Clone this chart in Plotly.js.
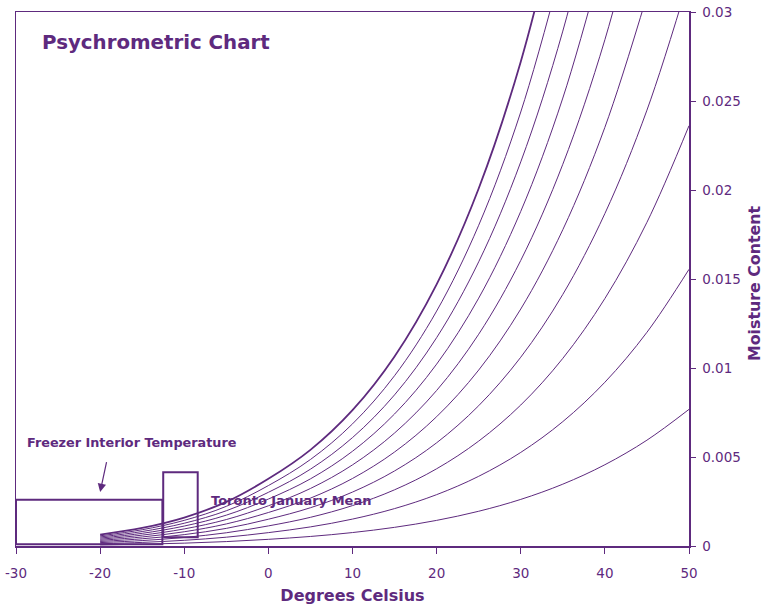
<!DOCTYPE html>
<html>
<head>
<meta charset="utf-8">
<script src="https://cdn.plot.ly/plotly-3.0.1.min.js"></script>
<style>html,body{margin:0;padding:0;background:#fff;}#chart{width:764px;height:605px;}</style>
</head>
<body>
<div id="chart"></div>
<script>
// Dry-bulb temperatures (°C) at which the curves were read
const temps = [-20, -15, -10, -5, 0, 5, 10, 15, 20, 25, 30, 35, 40, 45, 50];
// Moisture content (kg/kg)
const rh10  = [0.0000636, 0.000102, 0.00016, 0.000248, 0.000375, 0.000536, 0.000755, 0.001049, 0.001439, 0.001952, 0.002618, 0.003474, 0.004566, 0.005946, 0.007676];
const rh20  = [0.000127, 0.000203, 0.00032, 0.000495, 0.000751, 0.001073, 0.001512, 0.002101, 0.002885, 0.003916, 0.005258, 0.006988, 0.0092, 0.012007, 0.015544];
const rh30  = [0.000191, 0.000305, 0.00048, 0.000743, 0.001128, 0.001611, 0.00227, 0.003157, 0.004338, 0.005893, 0.00792, 0.010541, 0.013903, 0.018185, 0.023611];
const rh40  = [0.000254, 0.000406, 0.00064, 0.00099, 0.001504, 0.00215, 0.00303, 0.004217, 0.005797, 0.007882, 0.010605, 0.014135, 0.018677, 0.024486, 0.031885];
const rh50  = [0.000318, 0.000508, 0.0008, 0.00124, 0.001882, 0.00269, 0.003793, 0.00528, 0.007264, 0.009884, 0.013313, 0.01777, 0.023522, 0.030912];
const rh60  = [0.000381, 0.00061, 0.00096, 0.001486, 0.002259, 0.003231, 0.004557, 0.006347, 0.008737, 0.011898, 0.016045, 0.021446, 0.028442, 0.037466];
const rh70  = [0.000445, 0.000711, 0.00112, 0.001733, 0.002637, 0.003772, 0.005323, 0.007417, 0.010217, 0.013925, 0.0188, 0.025165, 0.033437];
const rh80  = [0.000509, 0.000813, 0.00128, 0.00198, 0.003016, 0.004315, 0.006091, 0.008491, 0.011704, 0.015966, 0.021579, 0.028927, 0.03851];
const rh90  = [0.000572, 0.000914, 0.00144, 0.002228, 0.003395, 0.004859, 0.00686, 0.009568, 0.013197, 0.018019, 0.024382, 0.032732];
const rh100 = [0.000636, 0.001016, 0.0016, 0.002476, 0.003775, 0.005403, 0.007632, 0.01065, 0.014699, 0.020086, 0.02721, 0.036584];

// Boxes
const freezerX = [-30, -12.6];
const freezerY = [0.0001, 0.0026];
const torontoX = [-12.5, -8.4];
const torontoY = [0.00049, 0.00414];

// Ticks
const xTickVals = [-30, -20, -10, 0, 10, 20, 30, 40, 50];
const xTickText = ["-30", "-20", "-10", "0", "10", "20", "30", "40", "50"];
const yTickVals = [0, 0.005, 0.01, 0.015, 0.02, 0.025, 0.03];
const yTickText = ["0", "0.005", "0.01", "0.015", "0.02", "0.025", "0.03"];

const C = '#5e2a7e';
const curves = [rh10, rh20, rh30, rh40, rh50, rh60, rh70, rh80, rh90, rh100];
const traces = curves.map((ys, i) => ({
  type: 'scatter', mode: 'lines',
  x: temps.slice(0, ys.length), y: ys,
  line: {color: C, width: i === curves.length - 1 ? 1.8 : 1, shape: 'spline', smoothing: 1},
  hoverinfo: 'skip', showlegend: false
}));
function box(xs, ys, w) {
  return {type: 'scatter', mode: 'lines',
    x: [xs[0], xs[1], xs[1], xs[0], xs[0]],
    y: [ys[0], ys[0], ys[1], ys[1], ys[0]],
    line: {color: C, width: w}, hoverinfo: 'skip', showlegend: false};
}
traces.push(box(freezerX, freezerY, 2));
traces.push(box(torontoX, torontoY, 2));

const layout = {
  width: 764, height: 605,
  margin: {l: 16, r: 75, t: 12, b: 59},
  paper_bgcolor: '#fff', plot_bgcolor: '#fff',
  font: {family: 'DejaVu Sans, sans-serif', color: C},
  title: {text: 'Psychrometric Chart', x: 42/764, xanchor: 'left', xref: 'container',
          y: 1 - 42/605, yanchor: 'middle', yref: 'container',
          font: {family: 'DejaVu Sans, sans-serif', size: 19.8, weight: 'bold', color: C}},
  xaxis: {range: [-30, 50], tickvals: xTickVals, ticktext: xTickText,
          showgrid: false, zeroline: false, showline: true, mirror: true,
          linecolor: C, linewidth: 1.5, ticks: 'outside', ticklen: 6, tickcolor: C, tickwidth: 1,
          ticklabelstandoff: 8,
          tickfont: {size: 13.5, color: C},
          title: {text: 'Degrees Celsius', standoff: 10,
                  font: {size: 16, weight: 'bold', color: C}}},
  yaxis: {range: [0, 0.03], side: 'right', tickvals: yTickVals, ticktext: yTickText,
          showgrid: false, zeroline: false, showline: true, mirror: true,
          linecolor: C, linewidth: 1.5, ticks: 'outside', ticklen: 5, tickcolor: C, tickwidth: 1,
          ticklabelstandoff: 4,
          tickfont: {size: 13.5, color: C}},
  annotations: [
    {x: (754 - 16) / 673, y: (546 - 284) / 534, xref: 'paper', yref: 'paper',
     text: 'Moisture Content', textangle: -90, showarrow: false,
     xanchor: 'center', yanchor: 'middle',
     font: {size: 15.8, weight: 'bold', color: C}},
    {x: -28.9, y: 0.00584, xref: 'x', yref: 'y', text: 'Freezer Interior Temperature',
     showarrow: false, xanchor: 'left', yanchor: 'middle',
     font: {size: 12.8, weight: 'bold', color: C}},
    {x: -20.0, y: 0.00303, xref: 'x', yref: 'y', ax: -19.2, ay: 0.0048, axref: 'x', ayref: 'y',
     text: '', showarrow: true, arrowhead: 2, arrowsize: 1.4, arrowwidth: 1.2, arrowcolor: C},
    {x: -7.05, y: 0.00258, xref: 'x', yref: 'y', text: 'Toronto January Mean',
     showarrow: false, xanchor: 'left', yanchor: 'middle',
     font: {size: 13, weight: 'bold', color: C}}
  ]
};
Plotly.newPlot('chart', traces, layout, {displayModeBar: false, staticPlot: true});
</script>
</body>
</html>
